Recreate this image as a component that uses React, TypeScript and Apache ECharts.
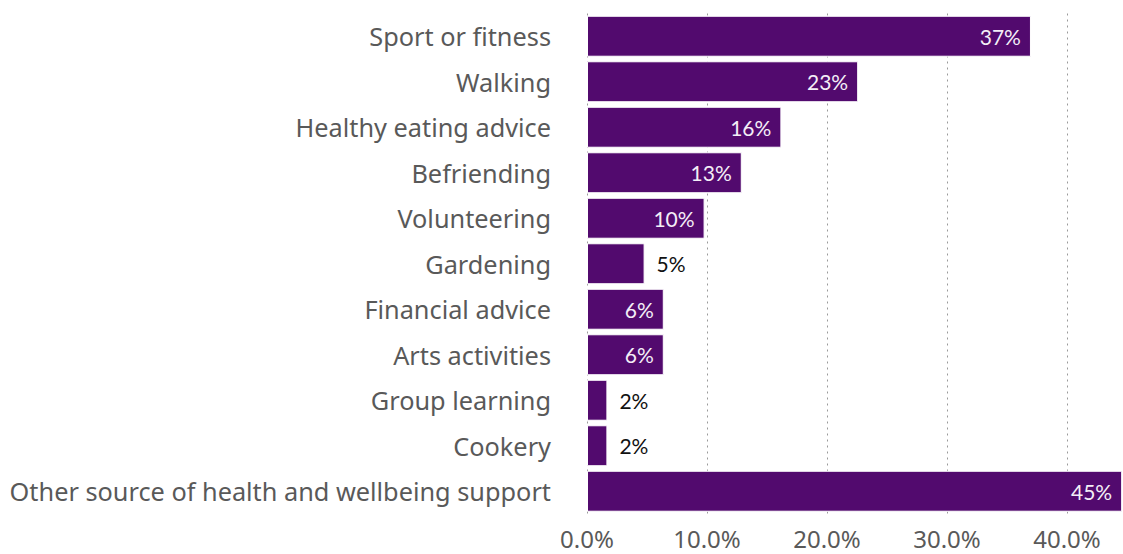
import React, { useEffect, useRef } from "react";
import * as echarts from "echarts";

const categories = [
  "Sport or fitness",
  "Walking",
  "Healthy eating advice",
  "Befriending",
  "Volunteering",
  "Gardening",
  "Financial advice",
  "Arts activities",
  "Group learning",
  "Cookery",
  "Other source of health and wellbeing support",
];
const values = [37.0, 22.6, 16.2, 12.9, 9.8, 4.8, 6.4, 6.4, 1.7, 1.7, 44.6];
const xTicks = [0, 10, 20, 30, 40];

export default function App() {
  const ref = useRef<HTMLDivElement>(null);
  useEffect(() => {
    if (!ref.current) return;
    const chart = echarts.init(ref.current, null, { renderer: "svg" });
    const data = values.map((v) => {
      const outside = v < 6;
      return {
        value: v,
        label: outside
          ? { show: true, position: "right", distance: 12, color: "#111", fontSize: 21 }
          : { show: true, position: "insideRight", distance: 10, color: "#f4eef7", fontSize: 21 },
      };
    });
    chart.setOption({
      animation: false,
      grid: { left: 587, right: 0, top: 13.5, bottom: 40, containLabel: false },
      xAxis: {
        type: "value",
        min: 0,
        max: 44.67,
        interval: 10,
        axisLine: { show: false },
        axisTick: { show: false },
        splitLine: {
          show: true,
          showMaxLine: false,
          lineStyle: { type: [2, 4], color: "#9a9a9a", width: 1 },
        },
        axisLabel: {
          color: "#595959",
          fontSize: 24,
          fontFamily: "Noto Sans",
          margin: 12,
          showMaxLabel: false,
          formatter: (v: number) => (xTicks.includes(v) ? v.toFixed(1) + "%" : ""),
        },
      },
      yAxis: {
        type: "category",
        inverse: true,
        data: categories,
        axisLine: { show: false },
        axisTick: { show: false },
        axisLabel: {
          color: "#595959",
          fontSize: 25.3,
          fontFamily: "Noto Sans",
          margin: 36,
        },
      },
      series: [
        {
          type: "bar",
          data,
          barCategoryGap: "10%",
          itemStyle: { color: "#520a6e", borderColor: "#ffffff", borderWidth: 1 },
          label: {
            fontFamily: "Lato",
            formatter: (p: any) => Math.round(p.value) + "%",
          },
        },
      ],
    });
    return () => chart.dispose();
  }, []);
  return (
    <div
      ref={ref}
      style={{ position: "absolute", left: 0, top: 0, width: 1123, height: 554 }}
    />
  );
}
